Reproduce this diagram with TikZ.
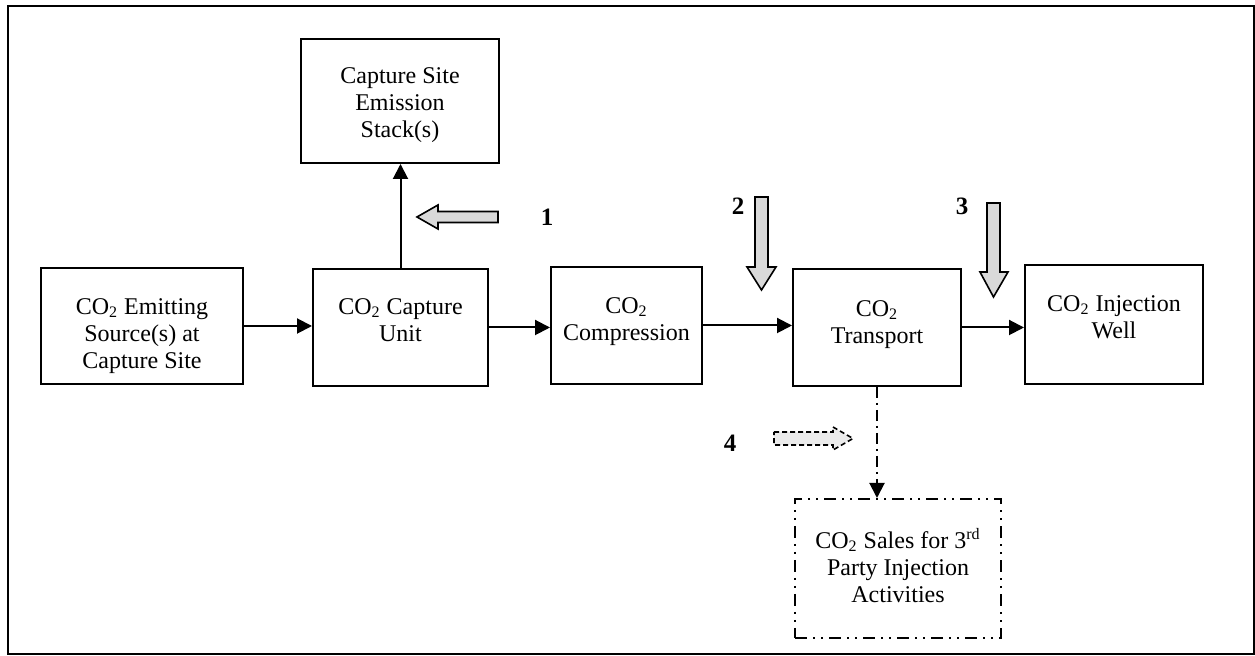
\documentclass[tikz,border=0pt]{standalone}
\usepackage{fontspec}
\setmainfont{Liberation Serif}
\usetikzlibrary{arrows.meta,calc}
\begin{document}
\begin{tikzpicture}[x=0.5pt,y=-0.5pt,
  box/.style={draw,line width=1pt,inner sep=0pt,anchor=north west},
  txt/.style={align=center,inner sep=0pt,anchor=north,font=\fontsize{12}{13.5}\selectfont},
  num/.style={inner sep=0pt,font=\fontsize{12.5}{14}\selectfont\bfseries},
  conn/.style={line width=1pt,-{Triangle[length=7.5pt,width=7.5pt]}},
  dashdotline/.style={dash pattern=on 5.5pt off 2.5pt on 1pt off 2.5pt},
  dashdotdotline/.style={dash pattern=on 6pt off 3pt on 1pt off 3pt on 1pt off 3pt},
  hollow/.style={draw,line width=0.8pt,fill=black!15,line join=miter}]
\useasboundingbox (0,0) rectangle (1255,656);
\draw[line width=1.3pt] (8,6) rectangle (1254,654);

% boxes
\node[box,minimum width=101pt,minimum height=58pt] (src) at (40,267) {};
\node[box,minimum width=87.5pt,minimum height=58.5pt] (cu) at (312,268) {};
\node[box,minimum width=99pt,minimum height=62pt] (stack) at (300,38) {};
\node[box,minimum width=75.5pt,minimum height=58.5pt] (comp) at (550,266) {};
\node[box,minimum width=84pt,minimum height=58.5pt] (trans) at (792,268) {};
\node[box,minimum width=89pt,minimum height=59.5pt] (well) at (1024,264) {};
\node[box,dashdotdotline,minimum width=103pt,minimum height=69.5pt] (sales) at (794,498) {};

% texts
\node[txt] (srcT) at ($(src.north)+(0,31)$) {CO\textsubscript{2} Emitting\\Source(s) at\\Capture Site};
\node[txt] (cuT) at ($(cu.north)+(0,30)$) {CO\textsubscript{2} Capture\\Unit};
\node[txt] (stackT) at ($(stack.north)+(0,29)$) {Capture Site\\Emission\\Stack(s)};
\node[txt] (compT) at ($(comp.north)+(0,31)$) {CO\textsubscript{2}\\Compression};
\node[txt] (transT) at ($(trans.north)+(0,32)$) {CO\textsubscript{2}\\Transport};
\node[txt] (wellT) at ($(well.north)+(0,31)$) {CO\textsubscript{2} Injection\\Well};
\node[txt] (salesT) at ($(sales.north)+(0,30)$) {CO\textsubscript{2} Sales for 3\textsuperscript{rd}\\Party Injection\\Activities};

% connectors
\draw[conn] (src.east) -- (src.east -| cu.west);
\draw[conn] (cu.east) -- (cu.east -| comp.west);
\draw[conn] (comp.east) -- (comp.east -| trans.west);
\draw[conn] (trans.east) -- (trans.east -| well.west);
\draw[conn] (cu.north) -- (cu.north |- stack.south);
\draw[conn,dashdotline] (trans.south) -- (trans.south |- sales.north);

% hollow marker arrows
\draw[hollow] (417,217) -- (438,205) -- (438,211.5) -- (498,211.5) -- (498,222.5) -- (438,222.5) -- (438,229) -- cycle;
\draw[hollow] (755,197) -- (768,197) -- (768,267) -- (776,267) -- (761.5,290) -- (747,267) -- (755,267) -- cycle;
\draw[hollow] (987,203) -- (1000,203) -- (1000,272) -- (1008,272) -- (993.5,297) -- (980,272) -- (987,272) -- cycle;
\draw[hollow,fill=black!8,dash pattern=on 2.5pt off 1.5pt] (774,432) -- (833,432) -- (833,427) -- (853,438.5) -- (833,450) -- (833,445) -- (774,445) -- cycle;

% labels
\node[num] (n1) at (547,217) {1};
\node[num] (n2) at (738,206) {2};
\node[num] (n3) at (962,206) {3};
\node[num] (n4) at (730,443) {4};
\end{tikzpicture}
\end{document}
